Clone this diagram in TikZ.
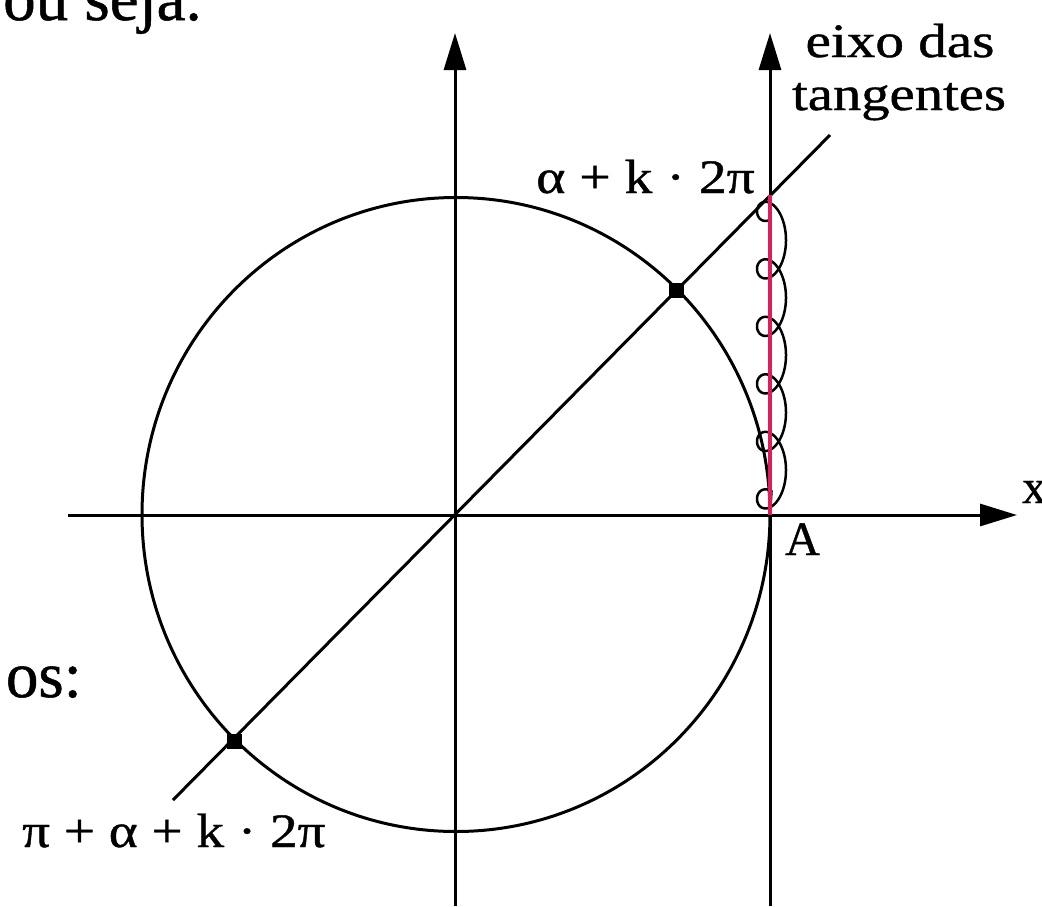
\documentclass[tikz,border=0pt]{standalone}
\usepackage{fontspec}
\setmainfont{Liberation Serif}[FakeBold=0.8]
\usetikzlibrary{arrows.meta}
\definecolor{tanred}{RGB}{222,30,90}
\begin{document}
\begin{tikzpicture}[x=1pt,y=-1pt,
  axis/.style={line width=3pt,-{Triangle[length=37pt,width=22pt]}},
  curve/.style={line width=3pt},
  dot/.style={fill=black,inner sep=0pt,minimum size=15pt,rectangle},
  body/.style={inner sep=0pt,font=\fontsize{65}{72}\selectfont},
  lbl/.style={inner sep=0pt,font=\fontsize{48}{55}\selectfont},
  coilstyle/.style={line width=2.5pt},
  tanline/.style={line width=4.5pt,draw=tanred}
]
\useasboundingbox (0,0) rectangle (1042,906);
% coordinates
\coordinate (O) at (456,514.5);
\coordinate (A) at (770,515);
\coordinate (T) at (770,195);
\coordinate (xs) at (68,515);
\coordinate (xe) at (1017,515);
\coordinate (ys) at (455,906);
\coordinate (ye) at (455,33);
\coordinate (ts) at (770,906);
\coordinate (te) at (770,33);
\coordinate (d1) at (173,800);
\coordinate (d2) at (830,135);
% circle
\draw[curve] (O) ellipse [x radius=314pt, y radius=317pt];
% axes
\draw[axis] (xs) -- (xe);
\draw[axis] (ys) -- (ye);
\draw[axis] (ts) -- (te);
% diagonal
\draw[curve] (d1) -- (d2);
% coil wound round the tangent segment
\draw[coilstyle] plot[domain=0:1980, samples=600, smooth] ({771.5-14.5*sin(\x)},{197+0.159722*\x+22*cos(\x)}) -- (A);
% tangent segment
\draw[tanline] (A) -- (T);
% dots
\node[dot] (P1) at (676,290) {};
\node[dot] (P2) at (234,741) {};
% texts
\node[body,anchor=base west] (t1) at (3,20) {ou seja.};
\node[body,anchor=base east] (t2) at (82,697) {os:};
\node[lbl,anchor=base east] (la) at (755,193) {\scalebox{1.16}[1]{α + k · 2π}};
\node[lbl,anchor=base west] (lb) at (22,847) {\scalebox{1.15}[1]{π + α + k · 2π}};
\node[lbl,anchor=base] (e1) at (900,57) {\scalebox{1.19}[1]{eixo das}};
\node[lbl,anchor=base] (e2) at (899,110) {\scalebox{1.18}[1]{tangentes}};
\node[lbl,anchor=base west] (lx) at (1022,503) {x};
\node[lbl,anchor=base west] (lA) at (785,555) {A};
\end{tikzpicture}
\end{document}
